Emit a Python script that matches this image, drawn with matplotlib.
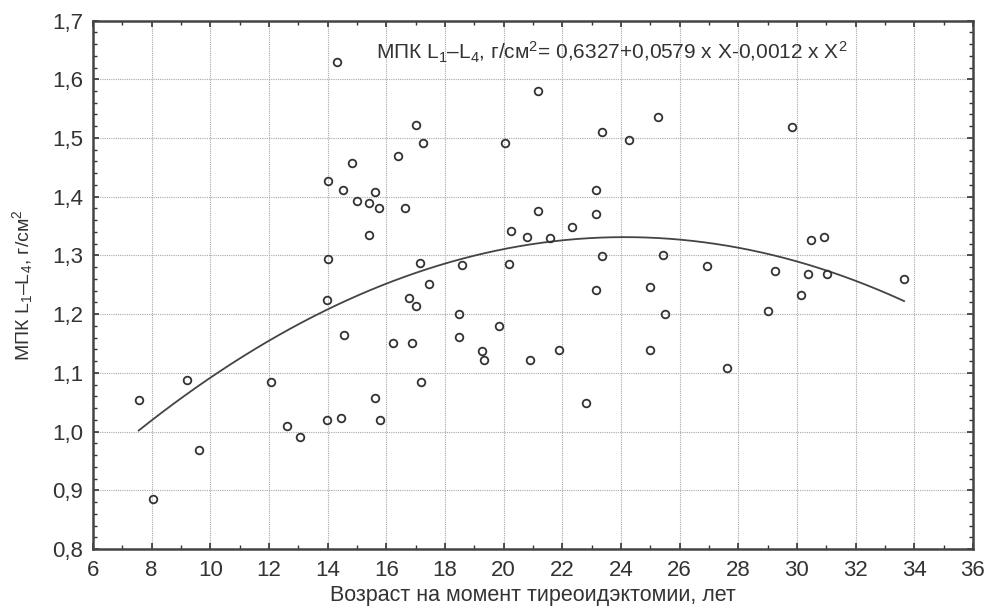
import numpy as np
import matplotlib
matplotlib.use('Agg')
import matplotlib.pyplot as plt
from matplotlib.ticker import MultipleLocator, FuncFormatter

plt.rcParams['font.family'] = ['Liberation Sans', 'DejaVu Sans']
plt.rcParams['mathtext.fontset'] = 'custom'
plt.rcParams['mathtext.rm'] = 'Liberation Sans'
plt.rcParams['mathtext.it'] = 'Liberation Sans'

# age at thyroidectomy, years
age = [14.32, 17.01, 17.25, 14.83, 16.40, 14.01, 14.52, 15.00, 15.41, 15.61,
       15.75, 16.64, 15.41, 14.01, 17.15, 17.46, 18.58, 13.97, 16.77, 17.01,
       18.48, 21.16, 20.06, 23.35, 24.27, 25.25, 29.82, 23.16, 21.16, 23.16,
       20.24, 20.80, 21.58, 22.32, 23.35, 25.42, 20.19, 26.94, 30.48, 30.91,
       29.26, 30.37, 31.04, 33.65, 23.16, 24.99, 30.12, 25.50, 29.02, 18.48,
       14.57, 16.23, 16.89, 19.25, 19.33, 17.19, 19.85, 12.07, 9.20, 7.56,
       9.62, 8.05, 12.62, 13.05, 13.97, 14.45, 15.61, 15.80, 20.91, 21.89,
       22.80, 24.99, 27.62]
# BMD L1-L4, g/cm2
bmd = [1.629, 1.522, 1.491, 1.458, 1.470, 1.426, 1.412, 1.393, 1.390, 1.408,
       1.381, 1.381, 1.335, 1.294, 1.287, 1.252, 1.284, 1.224, 1.227, 1.213,
       1.201, 1.580, 1.492, 1.511, 1.497, 1.536, 1.519, 1.412, 1.376, 1.371,
       1.341, 1.332, 1.329, 1.348, 1.299, 1.301, 1.285, 1.282, 1.327, 1.332,
       1.274, 1.269, 1.269, 1.260, 1.241, 1.247, 1.233, 1.200, 1.205, 1.161,
       1.164, 1.150, 1.150, 1.137, 1.122, 1.084, 1.180, 1.084, 1.087, 1.053,
       0.968, 0.885, 1.009, 0.990, 1.020, 1.023, 1.057, 1.020, 1.122, 1.139,
       1.048, 1.139, 1.108]

# regression coefficients from the chart
coef = [0.6327, 0.0579, -0.0012]

fig = plt.figure(figsize=(9.85, 6.09), dpi=100)
ax = fig.add_axes([0.0944, 0.0985, 0.8934, 0.8678])

xs = np.linspace(min(age), max(age), 200)
ax.plot(xs, coef[0] + coef[1] * xs + coef[2] * xs ** 2, color='#444444', lw=1.3, zorder=3)
ax.plot(age, bmd, 'o', mfc='none', mec='#333333', mew=1.3, ms=5.5, zorder=4)

ax.set_xlim(6, 36)
ax.set_ylim(0.8, 1.7)
ax.xaxis.set_major_locator(MultipleLocator(2))
ax.xaxis.set_minor_locator(MultipleLocator(1))
ax.yaxis.set_major_locator(MultipleLocator(0.1))
ax.yaxis.set_minor_locator(MultipleLocator(0.02))
ax.yaxis.set_major_formatter(FuncFormatter(lambda v, p: f'{v:.1f}'.replace('.', ',')))
ax.tick_params(which='both', direction='in', top=True, right=True, color='#333333',
               labelcolor='#333333', labelsize=16)
ax.tick_params(which='major', length=4, width=1.2)
ax.tick_params(which='minor', length=3, width=1.0)
ax.tick_params(axis='x', pad=8)
ax.tick_params(axis='y', pad=7)
ax.grid(True, which='major', color='#a8a8a8', ls=(0, (1, 1)), lw=0.8)
for s in ax.spines.values():
    s.set_color('#444444')
    s.set_linewidth(1.8)

ax.set_xlabel('Возраст на момент тиреоидэктомии, лет', fontsize=15.5, color='#333333', labelpad=3)
ax.set_ylabel('МПК L$_1$–L$_4$, г/см$^2$', fontsize=14, color='#333333', labelpad=12)
ax.text(15.65, 1.646, 'МПК L$_1$–L$_4$, г/см$^2$= 0,6327+0,0579 x X-0,0012 x X$^2$',
        fontsize=15, color='#333333', va='center', ha='left')

fig.savefig('out.png', dpi=100)
